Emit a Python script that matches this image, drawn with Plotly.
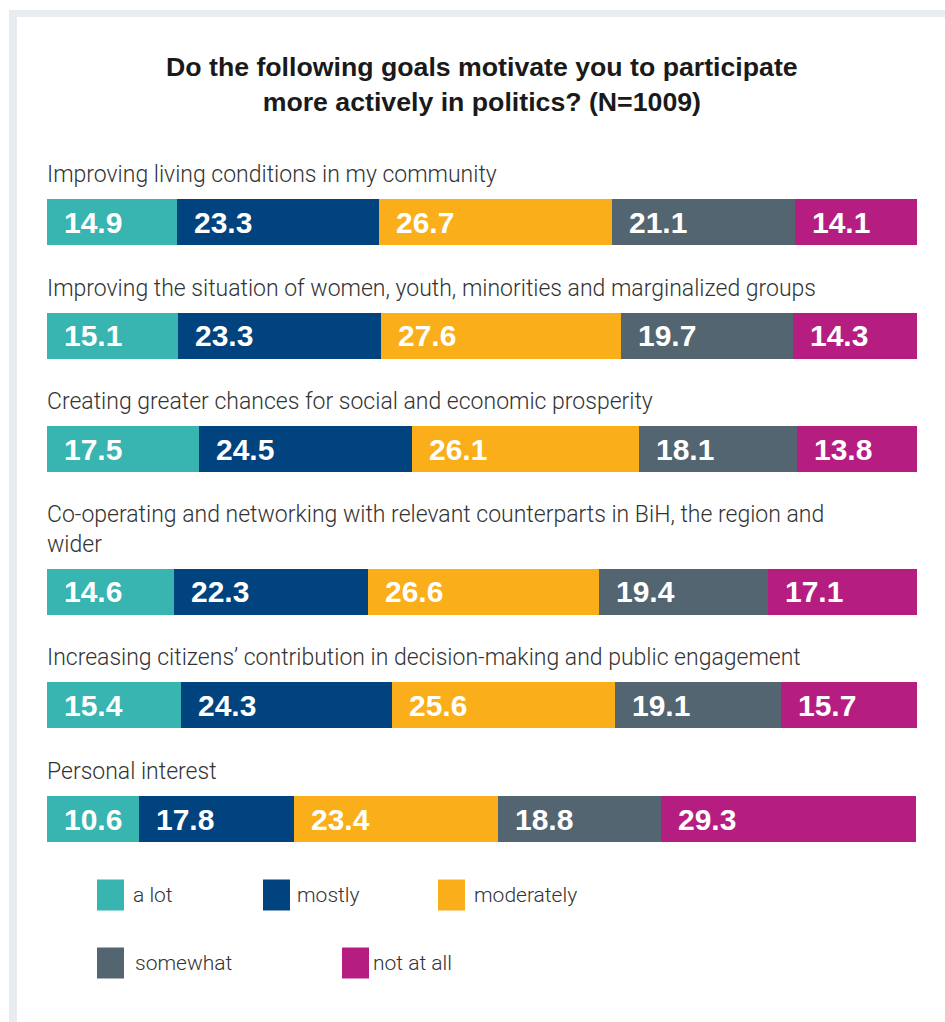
import plotly.graph_objects as go

# Survey responses (%), one list per answer option, in row order
goals = [
    "Improving living conditions in my community",
    "Improving the situation of women, youth, minorities and marginalized groups",
    "Creating greater chances for social and economic prosperity",
    "Co-operating and networking with relevant counterparts in BiH, the region and<br>wider",
    "Increasing citizens\u2019 contribution in decision-making and public engagement",
    "Personal interest",
]
a_lot = [14.9, 15.1, 17.5, 14.6, 15.4, 10.6]
mostly = [23.3, 23.3, 24.5, 22.3, 24.3, 17.8]
moderately = [26.7, 27.6, 26.1, 26.6, 25.6, 23.4]
somewhat = [21.1, 19.7, 18.1, 19.4, 19.1, 18.8]
not_at_all = [14.1, 14.3, 13.8, 17.1, 15.7, 29.3]

series = [
    ("a lot", a_lot, "#38b4b1"),
    ("mostly", mostly, "#01437e"),
    ("moderately", moderately, "#faae19"),
    ("somewhat", somewhat, "#536570"),
    ("not at all", not_at_all, "#b51e80"),
]

W, H = 945, 1022
BAR_PX = 46
EXTRA_LINE = 0.25  # extra row space for each additional label line

# row centres: one unit per row, plus room for wrapped labels
ypos = []
acc = 0.0
for i, g in enumerate(goals):
    if i > 0:
        acc += 1 + EXTRA_LINE * g.count("<br>")
    ypos.append(acc)

first_px, last_px = 222, 819
unit = (last_px - first_px) / (ypos[-1] - ypos[0])
y_top = ypos[0] - first_px / unit
y_bot = ypos[-1] + (H - last_px) / unit
bar_w = BAR_PX / unit

LABEL_FONT = dict(family="Roboto, Liberation Sans, sans-serif", size=23, color="#333333", weight=300)
LEGEND_FONT = dict(family="Roboto, Liberation Sans, sans-serif", size=21, color="#333333", weight=300)
VALUE_FONT = dict(family="Liberation Sans, Arial, sans-serif", size=30, color="#ffffff")
TITLE_FONT = dict(family="Liberation Sans, Arial, sans-serif", size=26.7, color="#1a1a1a")

fig = go.Figure()
annotations = []
for name, vals, color in series:
    fig.add_trace(go.Bar(
        x=vals, y=ypos, orientation="h", name=name, width=bar_w,
        marker=dict(color=color, line=dict(width=0)),
        showlegend=False, hoverinfo="x+name",
    ))

# value labels, left aligned inside each segment
for r in range(len(goals)):
    start = 0.0
    for name, vals, color in series:
        annotations.append(dict(
            x=start, y=ypos[r], xref="x", yref="y", text="<b>%.1f</b>" % vals[r],
            showarrow=False, xanchor="left", yanchor="middle", xshift=15,
            font=VALUE_FONT,
        ))
        start += vals[r]

# category labels above bars
for g, yp in zip(goals, ypos):
    annotations.append(dict(
        x=0, y=yp - bar_w / 2, xref="x", yref="y", text=g, showarrow=False,
        xanchor="left", yanchor="bottom", xshift=-2, yshift=9, align="left",
        font=LABEL_FONT,
    ))

# legend keys: (square left, text left, row centre) in pixels
legend_slots = [(97, 131, 895), (263, 295, 895), (438, 472, 895), (97, 133, 963), (342, 371, 963)]
shapes = []
for (name, vals, color), (sx, tx, ly) in zip(series, legend_slots):
    shapes.append(dict(
        type="rect", xref="paper", yref="paper",
        x0=sx / W, x1=(sx + 27) / W, y0=1 - (ly - 15.5) / H, y1=1 - (ly + 15.5) / H,
        fillcolor=color, line=dict(width=0),
    ))
    annotations.append(dict(
        x=tx / W, y=1 - ly / H, xref="paper", yref="paper", text=name,
        showarrow=False, xanchor="left", yanchor="middle", font=LEGEND_FONT,
    ))

# title
annotations.append(dict(
    x=482 / W, y=1 - 84 / H, xref="paper", yref="paper",
    text="<b>Do the following goals motivate you to participate<br>more actively in politics? (N=1009)</b>",
    showarrow=False, xanchor="center", yanchor="middle", align="center", font=TITLE_FONT,
))

# light frame along the top and left edges
frame = "#e8ecf0"
shapes.append(dict(type="rect", xref="paper", yref="paper", x0=9 / W, x1=1,
                   y0=1 - 10 / H, y1=1 - 17 / H, fillcolor=frame, line=dict(width=0), layer="below"))
shapes.append(dict(type="rect", xref="paper", yref="paper", x0=9 / W, x1=17 / W,
                   y0=0, y1=1 - 10 / H, fillcolor=frame, line=dict(width=0), layer="below"))

fig.update_layout(
    width=W, height=H, margin=dict(l=0, r=0, t=0, b=0),
    paper_bgcolor="#ffffff", plot_bgcolor="rgba(0,0,0,0)",
    barmode="stack", bargap=0,
    xaxis=dict(range=[0, 100], domain=[47 / W, 917 / W], visible=False, fixedrange=True),
    yaxis=dict(range=[y_bot, y_top], domain=[0, 1], visible=False, fixedrange=True),
    annotations=annotations,
    shapes=shapes,
)

fig.write_html("out.html")
